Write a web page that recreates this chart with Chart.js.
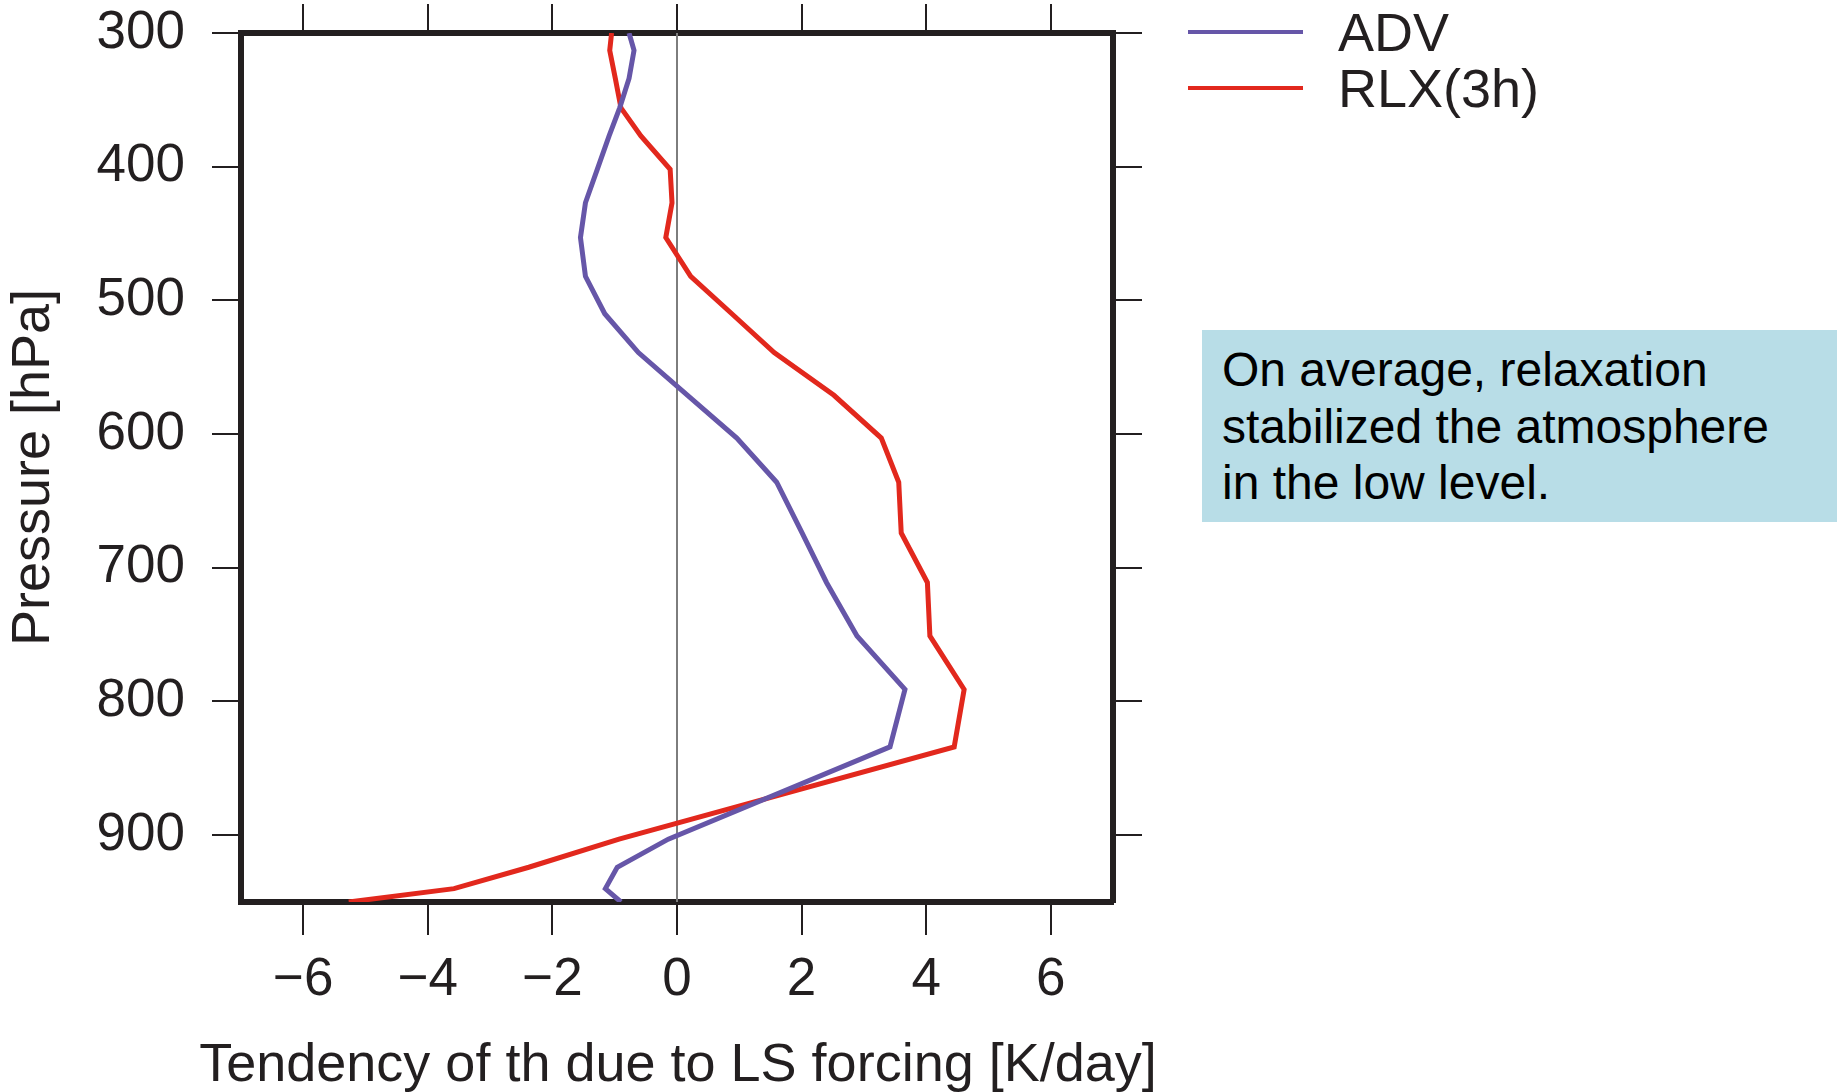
<!DOCTYPE html>
<html>
<head>
<meta charset="utf-8">
<script src="https://cdn.jsdelivr.net/npm/chart.js@4.4.1/dist/chart.umd.min.js"></script>
<style>
  html, body { margin: 0; padding: 0; background: #fff; }
  body { width: 1841px; height: 1092px; position: relative; overflow: hidden;
         font-family: 'Liberation Sans', Arial, sans-serif; color: #231f20; }
  #wrap { position: absolute; left: 0; top: 0; width: 1841px; height: 1092px; }
  #legend { position: absolute; left: 1188px; top: 4px; }
  .legend-item { display: flex; align-items: center; height: 56px; font-size: 54px; }
  .legend-line { width: 115px; height: 4px; margin-right: 35px; }
  #xtitle { position: absolute; left: 0; width: 1356px; top: 1035px; text-align: center;
            font-size: 54px; line-height: 54px; white-space: nowrap; }
  #note { position: absolute; left: 1202px; top: 330px; width: 635px; height: 192px;
          box-sizing: border-box; padding: 12px 20px; background: #b8dde7;
          font-size: 48px; line-height: 56.5px; color: #000; white-space: nowrap; }
</style>
</head>
<body>
<div id="wrap"><canvas id="mainChart" width="1841" height="1092"></canvas></div>
<div id="legend"></div>
<div id="xtitle">Tendency of th due to LS forcing [K/day]</div>
<div id="note">On average, relaxation<br>stabilized the atmosphere<br>in the low level.</div>

<script>
/* ── DATA ─────────────────────────────────────────────── */
const pressure = [300, 313, 334, 356, 377, 402, 427, 453, 482, 510, 539, 571,
                  603, 636, 674, 711, 751, 791, 834, 903, 924, 940, 950];
const advVals  = [-0.77, -0.69, -0.77, -0.92, -1.09, -1.28, -1.47, -1.55, -1.47, -1.16, -0.62, 0.17,
                  0.96, 1.60, 2.01, 2.40, 2.89, 3.66, 3.42, -0.14, -0.96, -1.15, -0.90];
const rlxVals  = [-1.05, -1.08, -0.99, -0.90, -0.58, -0.11, -0.08, -0.18, 0.22, 0.88, 1.56, 2.52,
                  3.28, 3.56, 3.60, 4.02, 4.06, 4.61, 4.45, -0.93, -2.38, -3.58, -5.27];
const xTicks   = [-6, -4, -2, 0, 2, 4, 6];
const yTicks   = [300, 400, 500, 600, 700, 800, 900];

const INK  = '#231f20';
const FONT = "'Liberation Sans', Arial, sans-serif";

const series = [
  { label: 'ADV',     vals: advVals, color: '#6656a8' },
  { label: 'RLX(3h)', vals: rlxVals, color: '#e2281d' }
];

/* ── ZERO LINE ────────────────────────────────────────── */
const zeroLine = {
  id: 'zeroLine',
  beforeDatasetsDraw(chart) {
    const { ctx, chartArea, scales } = chart;
    const x = scales.x.getPixelForValue(0);
    ctx.save();
    ctx.strokeStyle = '#7d7d7d';
    ctx.lineWidth = 2;
    ctx.beginPath();
    ctx.moveTo(x, chartArea.top);
    ctx.lineTo(x, chartArea.bottom);
    ctx.stroke();
    ctx.restore();
  }
};

const fmt = v => (v < 0 ? '\u2212' + Math.abs(v) : String(v));

/* fixed axis box sizes, no extra room for overflowing end labels */
const fixSize = (w, h) => s => {
  if (w !== null) s.width = w;
  if (h !== null) s.height = h;
  s.paddingTop = s.paddingBottom = s.paddingLeft = s.paddingRight = 0;
};

function axisBase(tl, extra) {
  return Object.assign({
    type: 'linear',
    grid: { drawOnChartArea: false, drawTicks: true, tickLength: tl, lineWidth: 2, color: INK },
    border: { display: true, width: 6, color: INK }
  }, extra);
}

/* ── CHART ────────────────────────────────────────────── */
const chart = new Chart(document.getElementById('mainChart').getContext('2d'), {
  type: 'scatter',
  data: {
    datasets: series.map(s => ({
      label: s.label,
      data: pressure.map((p, i) => ({ x: s.vals[i], y: p })),
      showLine: true,
      borderColor: s.color,
      backgroundColor: s.color,
      borderWidth: 5,
      pointRadius: 0,
      tension: 0
    }))
  },
  options: {
    responsive: false,
    animation: false,
    layout: { padding: { left: 0, top: 0, bottom: 0, right: 698 } },
    plugins: { legend: { display: false }, tooltip: { enabled: false } },
    scales: {
      x: axisBase(33, {
        position: 'bottom', min: -7, max: 7,
        afterBuildTicks: s => { s.ticks = xTicks.map(v => ({ value: v })); },
        afterFit: fixSize(null, 190),
        ticks: { font: { size: 53, family: FONT }, color: INK, padding: 14, maxRotation: 0, callback: fmt }
      }),
      x2: axisBase(29, {
        position: 'top', min: -7, max: 7,
        afterBuildTicks: s => { s.ticks = xTicks.map(v => ({ value: v })); },
        afterFit: fixSize(null, 33),
        ticks: { display: false }
      }),
      y: axisBase(29, {
        position: 'left', min: 300, max: 950, reverse: true,
        afterBuildTicks: s => { s.ticks = yTicks.map(v => ({ value: v })); },
        afterFit: fixSize(241, null),
        ticks: { font: { size: 53, family: FONT }, color: INK, padding: 27 },
        title: { display: true, text: 'Pressure [hPa]', color: INK,
                 font: { size: 54, family: FONT }, padding: { top: 2, bottom: 0 } }
      }),
      y2: axisBase(29, {
        position: 'right', min: 300, max: 950, reverse: true,
        afterBuildTicks: s => { s.ticks = yTicks.map(v => ({ value: v })); },
        afterFit: fixSize(30, null),
        ticks: { display: false }
      })
    }
  },
  plugins: [zeroLine]
});

/* ── LEGEND ───────────────────────────────────────────── */
document.getElementById('legend').innerHTML = chart.data.datasets.map(ds => `
  <div class="legend-item">
    <div class="legend-line" style="background:${ds.borderColor}"></div>${ds.label}
  </div>`).join('');
</script>
</body>
</html>
